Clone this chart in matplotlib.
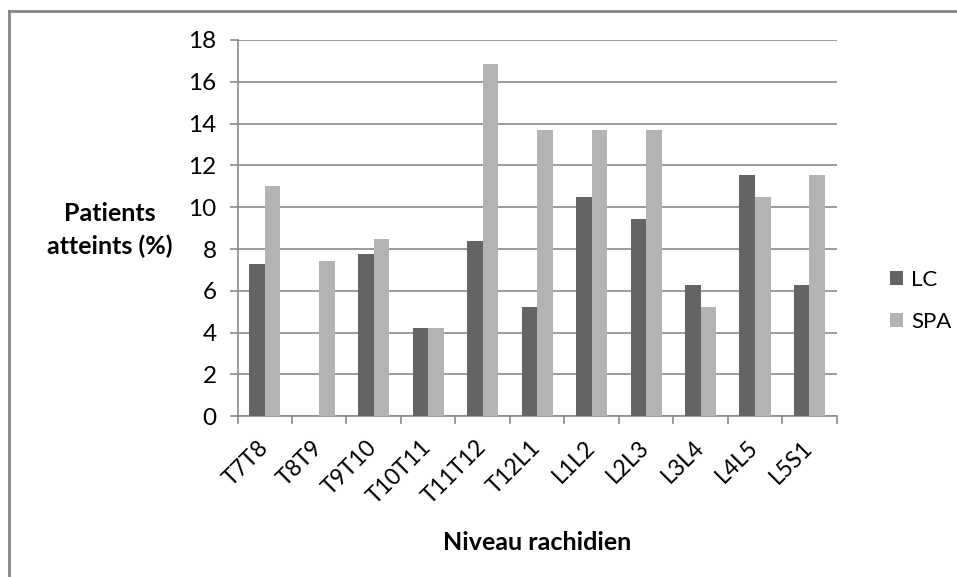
import numpy as np
import matplotlib.pyplot as plt
from matplotlib.lines import Line2D

plt.rcParams['font.family'] = ['Lato', 'DejaVu Sans']

levels = ['T7T8', 'T8T9', 'T9T10', 'T10T11', 'T11T12', 'T12L1',
          'L1L2', 'L2L3', 'L3L4', 'L4L5', 'L5S1']
lc = [7.3, 0, 7.75, 4.2, 8.4, 5.25, 10.5, 9.45, 6.3, 11.55, 6.3]
spa = [11.0, 7.45, 8.5, 4.2, 16.85, 13.7, 13.7, 13.7, 5.25, 10.5, 11.55]
yticks = list(range(0, 19, 2))

dark = '#646464'
light = '#b3b3b3'
grid = '#8a8a8a'

fig = plt.figure(figsize=(9.57, 5.77), dpi=100)
ax = fig.add_axes([237.5 / 957, 1 - 416.3 / 577, (836.7 - 237.5) / 957, (416.3 - 40) / 577])

x = np.arange(len(levels))
w = 0.285
ax.bar(x - w / 2, lc, w, color=dark, label='LC', zorder=3)
ax.bar(x + w / 2, spa, w, color=light, label='SPA', zorder=3)

ax.set_xlim(-0.5, len(levels) - 0.5)
ax.set_ylim(0, 18)
ax.set_yticks(yticks)
ax.set_yticklabels([str(t) for t in yticks], fontsize=17.5)
ax.yaxis.grid(True, color=grid, linewidth=1.2, zorder=0)

# category labels at centres, tick marks at boundaries
ax.set_xticks(x)
ax.set_xticklabels(levels, fontsize=16.5, rotation=45, ha='right', va='center',
                   rotation_mode='anchor')
ax.set_xticks(np.arange(-0.5, len(levels)), minor=True)
ax.tick_params(axis='x', which='major', length=0, pad=20)
ax.tick_params(axis='x', which='minor', length=6, color=grid, width=1.2)
ax.tick_params(axis='y', length=6, color=grid, width=1.2, pad=9)

for s in ['top', 'right']:
    ax.spines[s].set_visible(False)
for s in ['left', 'bottom']:
    ax.spines[s].set_color(grid)
    ax.spines[s].set_linewidth(1.2)

fig.text(110 / 957, 1 - 230 / 577, 'Patients\natteints (%)', fontsize=18,
         fontweight='bold', ha='center', va='center', linespacing=1.45)
fig.text(537 / 957, 1 - 542 / 577, 'Niveau rachidien', fontsize=18,
         fontweight='bold', ha='center', va='center')

fig.legend(loc='center left', bbox_to_anchor=(879 / 957, 1 - 301 / 577),
           frameon=False, fontsize=16, handlelength=0.6, handleheight=0.6,
           handletextpad=0.35, labelspacing=1.0, borderpad=0)

# outer chart frame (top and left edges visible)
fig.add_artist(Line2D([9 / 957, 1], [1 - 10.5 / 577] * 2, transform=fig.transFigure,
                      color='#868686', linewidth=2))
fig.add_artist(Line2D([9 / 957] * 2, [0, 1 - 10.5 / 577], transform=fig.transFigure,
                      color='#868686', linewidth=2))

fig.savefig('out.png', dpi=100)
